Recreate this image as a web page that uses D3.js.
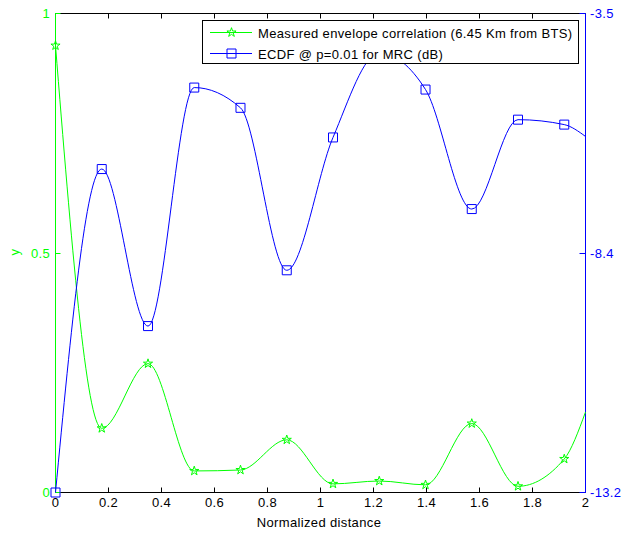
<!DOCTYPE html>
<html>
<head>
<meta charset="utf-8">
<script src="https://cdn.jsdelivr.net/npm/d3@7"></script>
<style>
  html, body { margin: 0; padding: 0; background: #fff; }
  svg { display: block; }
  text { font-family: "Liberation Sans", Arial, Helvetica, sans-serif; font-size: 13px; letter-spacing: 0.35px; }
</style>
</head>
<body>
<svg id="chart" width="625" height="533"></svg>
<script>
// Sample positions (normalized distance) where measurements were taken
const distance = [0, 0.1745, 0.3491, 0.5236, 0.6981, 0.8727, 1.0472, 1.2217, 1.3963, 1.5708, 1.7453, 1.9199];
// Measured envelope correlation (left axis)
const envCorr = [0.933, 0.134, 0.269, 0.045, 0.047, 0.110, 0.018, 0.024, 0.016, 0.144, 0.013, 0.070];
// ECDF @ p=0.01 for MRC in dB (right axis)
const ecdfDb = [-13.2, -6.65, -9.83, -5.00, -5.41, -8.70, -6.01, -4.30, -5.04, -7.46, -5.65, -5.75];
// Curve end values at the right edge of the axis
const curveEndX = 2;
const envCorrEnd = 0.168;
const ecdfDbEnd = -5.99;

// Axis ticks and labels
const xTicks = [0, 0.2, 0.4, 0.6, 0.8, 1, 1.2, 1.4, 1.6, 1.8, 2];
const xTickLabels = ["0", "0.2", "0.4", "0.6", "0.8", "1", "1.2", "1.4", "1.6", "1.8", "2"];
const yLeftTicks = [0, 0.5, 1];
const yLeftLabels = ["0", "0.5", "1"];
const yRightTicks = [-13.2, -8.35, -3.5];
const yRightLabels = ["-13.2", "-8.4", "-3.5"];
const legendLabels = ["Measured envelope correlation (6.45 Km from BTS)", "ECDF @ p=0.01 for MRC (dB)"];

const GREEN = "#00ff00", BLUE = "#0000ff";

const svg = d3.select("#chart");
const L = 55.5, R = 585.5, T = 13.5, B = 492.5;

const x = d3.scaleLinear().domain([0, 2]).range([L, R]);
const yL = d3.scaleLinear().domain([0, 1]).range([B, T]);
const yR = d3.scaleLinear().domain([-13.2, -3.5]).range([B, T]);

// Black frame: top border and bottom axis with inward ticks
svg.append("line").attr("x1", L).attr("x2", R).attr("y1", T).attr("y2", T).attr("stroke", "#000");
svg.append("line").attr("x1", L).attr("x2", R).attr("y1", B).attr("y2", B).attr("stroke", "#000");
const xt = svg.append("g");
xTicks.forEach((v, i) => {
  const px = Math.round(x(v) - 0.5) + 0.5;
  xt.append("line").attr("x1", px).attr("x2", px).attr("y1", B).attr("y2", B - 5).attr("stroke", "#000");
  xt.append("line").attr("x1", px).attr("x2", px).attr("y1", T).attr("y2", T + 5).attr("stroke", "#000");
  xt.append("text").attr("x", x(v)).attr("y", 507).attr("text-anchor", "middle").attr("fill", "#000").text(xTickLabels[i]);
});
svg.append("text").attr("x", 319).attr("y", 527).attr("text-anchor", "middle").attr("fill", "#000").text("Normalized distance");

// Left (green) axis
svg.append("line").attr("x1", L).attr("x2", L).attr("y1", T).attr("y2", B).attr("stroke", GREEN);
yLeftTicks.forEach((v, i) => {
  const py = Math.round(yL(v) - 0.5) + 0.5;
  svg.append("line").attr("x1", L).attr("x2", L + 5).attr("y1", py).attr("y2", py).attr("stroke", GREEN);
  svg.append("text").attr("x", 50).attr("y", yL(v)).attr("dy", "0.35em").attr("text-anchor", "end").attr("fill", GREEN).text(yLeftLabels[i]);
});
svg.append("text").attr("transform", "translate(19,252) rotate(-90)").attr("text-anchor", "middle").attr("fill", GREEN).text("y");

// Right (blue) axis
svg.append("line").attr("x1", R).attr("x2", R).attr("y1", T).attr("y2", B).attr("stroke", BLUE);
yRightTicks.forEach((v, i) => {
  const py = Math.round(yR(v) - 0.5) + 0.5;
  svg.append("line").attr("x1", R).attr("x2", R - 6).attr("y1", py).attr("y2", py).attr("stroke", BLUE);
  svg.append("text").attr("x", 590).attr("y", yR(v)).attr("dy", "0.35em").attr("text-anchor", "start").attr("fill", BLUE).text(yRightLabels[i]);
});

const star = d3.symbol().type(d3.symbolStar).size(26);
const square = d3.symbol().type(d3.symbolSquare).size(81);

// Envelope correlation curve (shape-preserving cubic) + star markers
const envPts = distance.map((d, i) => [d, envCorr[i]]).concat([[curveEndX, envCorrEnd]]);
const envLine = d3.line().x(d => x(d[0])).y(d => yL(d[1])).curve(d3.curveMonotoneX);
svg.append("path").attr("d", envLine(envPts)).attr("fill", "none").attr("stroke", GREEN).attr("stroke-width", 1);
svg.append("g").selectAll("path").data(distance).join("path")
  .attr("transform", (d, i) => `translate(${x(d)},${yL(envCorr[i])})`)
  .attr("d", star).attr("fill", "none").attr("stroke", GREEN).attr("stroke-width", 1);

// ECDF curve (shape-preserving cubic) + square markers
const ecdfPts = distance.map((d, i) => [d, ecdfDb[i]]).concat([[curveEndX, ecdfDbEnd]]);
const ecdfLine = d3.line().x(d => x(d[0])).y(d => yR(d[1])).curve(d3.curveMonotoneX);
svg.append("path").attr("d", ecdfLine(ecdfPts)).attr("fill", "none").attr("stroke", BLUE).attr("stroke-width", 1);
svg.append("g").selectAll("path").data(distance).join("path")
  .attr("transform", (d, i) => `translate(${x(d)},${yR(ecdfDb[i])})`)
  .attr("d", square).attr("fill", "none").attr("stroke", BLUE).attr("stroke-width", 1);

// Legend
const lg = svg.append("g");
lg.append("rect").attr("x", 202.5).attr("y", 20.5).attr("width", 376).attr("height", 43)
  .attr("fill", "#fff").attr("stroke", "#000");
const rows = [
  { y: 32.5, color: GREEN, sym: star, label: legendLabels[0] },
  { y: 53.5, color: BLUE, sym: square, label: legendLabels[1] }
];
rows.forEach(r => {
  lg.append("line").attr("x1", 210).attr("x2", 252).attr("y1", r.y).attr("y2", r.y).attr("stroke", r.color);
  lg.append("path").attr("transform", `translate(231.5,${r.y})`).attr("d", r.sym).attr("fill", "none").attr("stroke", r.color);
  lg.append("text").attr("x", 258).attr("y", r.y + 5.5).attr("fill", "#000").text(r.label);
});
</script>
</body>
</html>
